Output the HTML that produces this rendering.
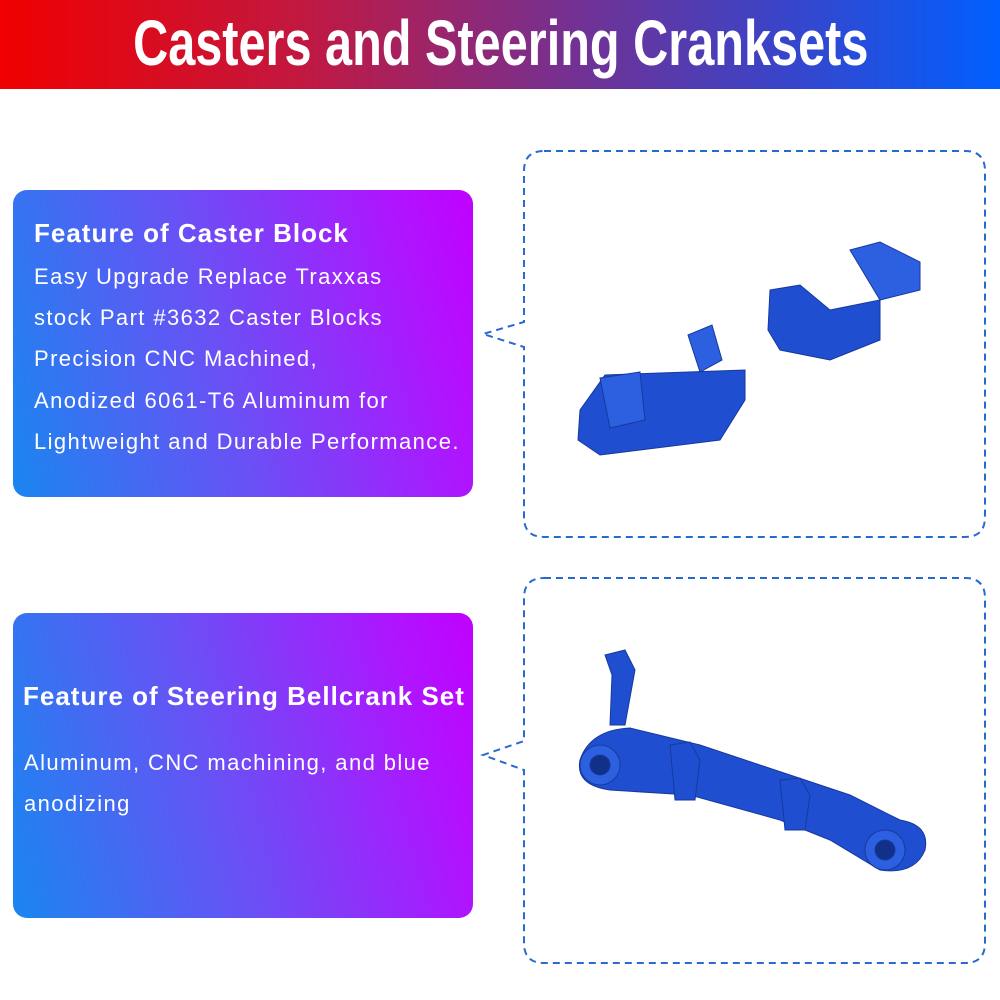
<!DOCTYPE html>
<html><head><meta charset="utf-8"><style>
body{margin:0;width:1000px;height:1000px;background:#fff;position:relative;overflow:hidden;font-family:"Liberation Sans",sans-serif}
.hdr{position:absolute;left:0;top:0;width:1000px;height:89px;background:linear-gradient(90deg,#f00000 0%,#c21840 30%,#7a2f8c 55%,#3a44c8 78%,#0060ff 100%)}
.title{position:absolute;left:0;top:5px;width:1000px;text-align:center;color:#fff;font-weight:bold;font-size:64px;line-height:76px;transform:scaleX(0.76);transform-origin:503px 0;white-space:nowrap}
.box{position:absolute;left:13px;width:460px;border-radius:14px;background:linear-gradient(75deg,#1a86f0 0%,#6a50f5 45%,#b014ff 85%,#c000ff 100%);color:#fff}
.box div{position:absolute;white-space:nowrap}
.h{font-weight:bold;font-size:26px;letter-spacing:1px}
.t{font-size:22px;letter-spacing:1.4px}
svg{position:absolute;left:0;top:0}
</style></head><body>
<div class="hdr"></div>
<div class="title">Casters and Steering Cranksets</div>
<div class="box" style="top:190px;height:307px">
<div class="h" style="left:21px;top:28px">Feature of Caster Block</div>
<div class="t" style="left:21px;top:74px">Easy Upgrade Replace Traxxas</div>
<div class="t" style="left:21px;top:115px">stock Part #3632 Caster Blocks</div>
<div class="t" style="left:21px;top:156px">Precision CNC Machined,</div>
<div class="t" style="left:21px;top:198px">Anodized 6061-T6 Aluminum for</div>
<div class="t" style="left:21px;top:239px">Lightweight and Durable Performance.</div>
</div>
<div class="box" style="top:613px;height:305px">
<div class="h" style="left:10px;top:68px">Feature of Steering Bellcrank Set</div>
<div class="t" style="left:11px;top:137px">Aluminum, CNC machining, and blue</div>
<div class="t" style="left:11px;top:178px">anodizing</div>
</div>
<svg width="1000" height="1000">
<g fill="none" stroke="#2a6ad0" stroke-width="2" stroke-dasharray="7,5">
<path d="M544 151 H965 Q985 151 985 171 V517 Q985 537 965 537 H544 Q524 537 524 517 V347 L483 334 L524 322 V171 Q524 151 544 151 Z"/>
<path d="M544 578 H965 Q985 578 985 598 V943 Q985 963 965 963 H544 Q524 963 524 943 V770 L483 755 L524 741 V598 Q524 578 544 578 Z"/>
</g>
<g fill="#1f4fd0" stroke="#163a9c" stroke-width="1">
<path d="M580 410 L605 375 L745 370 L745 400 L720 440 L600 455 L578 440 Z"/>
<path d="M600 378 L640 372 L645 420 L610 428 Z" fill="#2d60e0"/>
<path d="M688 335 L712 325 L722 360 L700 372 Z" fill="#2d60e0"/>
<path d="M770 290 L800 285 L830 310 L880 300 L880 340 L830 360 L780 350 L768 330 Z"/>
<path d="M850 250 L880 242 L920 262 L920 290 L880 300 Z" fill="#2d60e0"/>
<path d="M605 655 L625 650 L635 670 L625 725 L610 725 L612 675 Z"/>
<path d="M580 760 Q590 730 630 728 L700 745 L790 775 L850 795 L900 820 Q930 825 925 850 Q915 875 880 870 L830 840 L780 820 L690 795 L610 790 Q575 785 580 760 Z"/>
<circle cx="600" cy="765" r="20" fill="#2d60e0"/>
<circle cx="885" cy="850" r="20" fill="#2d60e0"/>
<circle cx="600" cy="765" r="10" fill="#10308a"/>
<circle cx="885" cy="850" r="10" fill="#10308a"/>
<path d="M670 745 L690 742 L700 760 L695 800 L675 800 Z"/>
<path d="M780 780 L800 778 L810 795 L805 830 L785 830 Z"/>
</g>
</svg>
</body></html>
